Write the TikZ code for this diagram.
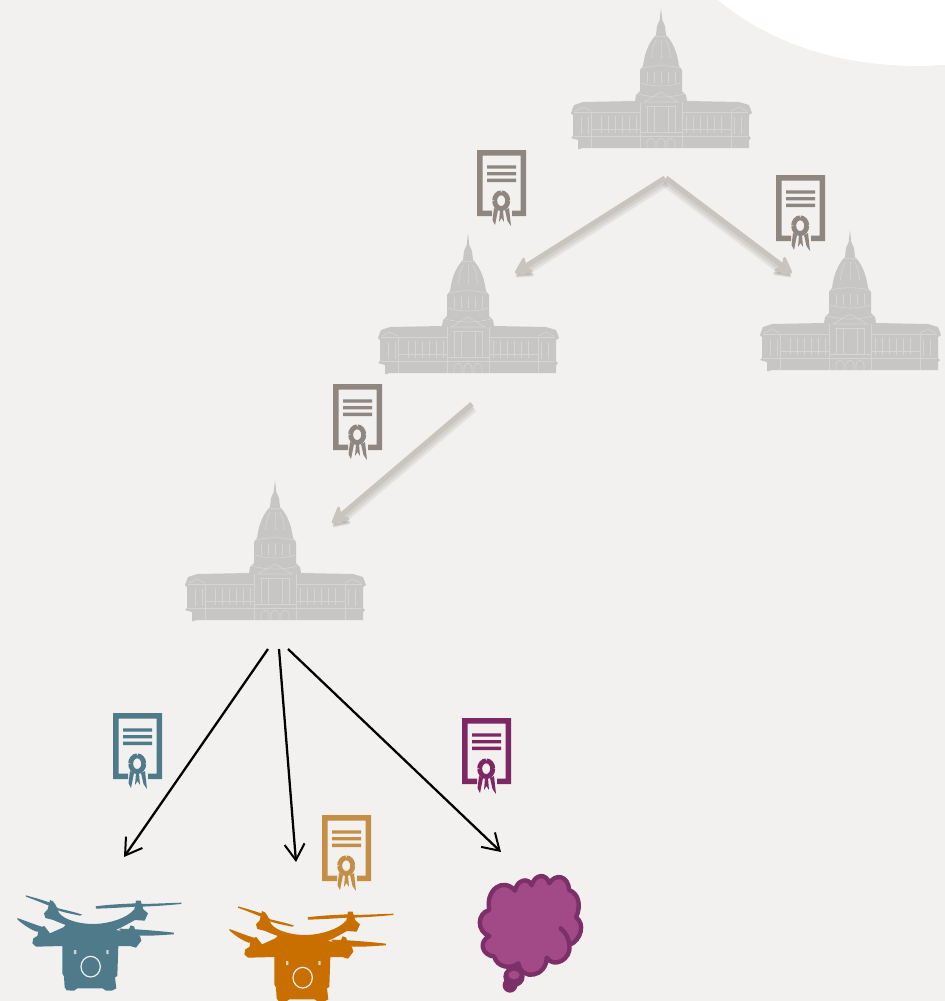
\documentclass[tikz,border=0pt]{standalone}
\usetikzlibrary{arrows.meta}
\definecolor{bg}{HTML}{F2F1EF}
\definecolor{capfill}{HTML}{C7C6C5}
\definecolor{capline}{HTML}{D6D5D4}
\definecolor{certgray}{HTML}{8F867F}
\definecolor{certteal}{HTML}{4F7A8A}
\definecolor{certtan}{HTML}{C48E45}
\definecolor{certpurple}{HTML}{7D2765}
\definecolor{droneteal}{HTML}{4E7A8A}
\definecolor{droneorange}{HTML}{C96F00}
\definecolor{brainfill}{HTML}{A24A87}
\definecolor{brainline}{HTML}{7B3067}
\definecolor{softarrow}{HTML}{CAC4BE}
\definecolor{softshadow}{HTML}{9E9A96}
\tikzset{
  softtip/.style={-{Stealth[length=15pt,width=16pt,inset=5pt,round,line width=2pt]}},
  softline/.style={softtip,draw=softarrow,line width=3.8pt,line cap=butt},
  softglow/.style={softtip,draw=softshadow,opacity=.10,line cap=butt},
  blackarrow/.style={-{Straight Barb[length=12pt,width=15pt,line width=1.5pt]},draw=black,line width=1.7pt},
  capdetail/.style={draw=capline,line width=.5pt},
  pics/capitol/.style={code={
    \fill[capfill] (0,-140) -- (1.3,-128) -- (4,-122) -- (5,-113)
      .. controls (10,-108) and (15,-99) .. (17,-88) -- (18,-82) -- (21,-78) -- (21,-57) -- (25,-53) -- (26,-47)
      -- (78,-46) -- (88,-43) -- (91,-35) -- (88,-33) -- (88,-12) -- (90,-10) -- (88,-8) -- (88,0)
      -- (-80,0) -- (-80,1) -- (-83,1) -- (-83,-8) -- (-90,-10) -- (-88,-12) -- (-88,-33) -- (-90,-35) -- (-87,-43) -- (-78,-46)
      -- (-26,-47) -- (-25,-53) -- (-21,-57) -- (-21,-78) -- (-18,-82) -- (-17,-88)
      .. controls (-15,-99) and (-10,-108) .. (-5,-113) -- (-4,-122) -- (-1.3,-128) -- cycle;
    \draw[capdetail] (-19,-80) .. controls (-8,-83) and (8,-83) .. (19,-80);
    \draw[capdetail] (-20,-65) .. controls (-8,-61) and (8,-61) .. (20,-65);
    \draw[capdetail] (-23,-54) .. controls (-8,-50) and (8,-50) .. (23,-54);
    \draw[capdetail] (-17,-46) -- (0,-56) -- (17,-46) -- cycle;
    \draw[capdetail] (-6,-111) .. controls (-2,-112) and (2,-112) .. (6,-111);
    \foreach \i in {-14,-7,0,7,14} {\draw[capdetail] (\i,-76) -- (\i,-65);}
    \foreach \i in {-8,0,8} {\draw[capdetail] (\i*.6,-108) .. controls (\i*1,-102) .. (\i*1.2,-90);}
    \draw[capdetail] (-87,-36) -- (-21,-36) (21,-36) -- (87,-36);
    \draw[capdetail] (-87,-12) -- (87,-12);
    \draw[capdetail] (-21,-46) -- (-21,0) (21,-46) -- (21,0);
    \draw[capdetail] (-15,-42) -- (15,-42);
    \foreach \i in {-14,-7,7,14} {\draw[capdetail] (\i,-42) -- (\i,-16);}
    \draw[capdetail] (-21,-16) -- (21,-16);
    \foreach \i in {-10,0,10} {\draw[capdetail] (\i-4,0) -- (\i-4,-6) .. controls (\i-3,-11) and (\i+3,-11) .. (\i+4,-6) -- (\i+4,0);}
    \foreach \s in {-1,1} {
      \draw[capdetail] (\s*86,-37) -- (\s*78,-41) -- (\s*70,-37);
      \draw[capdetail] (\s*70,-36) -- (\s*70,0);
      \draw[capdetail] (\s*80,-31) -- (\s*80,-14) (\s*73,-31) -- (\s*73,-14);
      \foreach \i in {25,32,39,46,53,60} {\draw[capdetail] (\s*\i,-32) -- (\s*\i,-15);}
      \draw[capdetail] (\s*21,-19) -- (\s*70,-19);
    }
  }},
  pics/certificate/.style={code={
    \fill[#1,even odd rule] (0,0) -- (49,0) -- (49,66) -- (35,66) -- (35,60.5) -- (43.5,60.5) -- (43.5,5.5) -- (5.5,5.5) -- (5.5,60.5) -- (15,60.5) -- (15,66) -- (0,66) -- cycle;
    \fill[#1] (10,15.3) rectangle (39,18.7) (10,22) rectangle (39,25.4) (10,28.7) rectangle (39,32.1);
    \draw[#1,line width=3.7pt,dash pattern=on 2.6pt off .25pt] (24.2,50.7) ellipse (4.9pt and 5.9pt);
    \fill[#1] (17,58) -- (21,60) -- (18,75) -- (15.5,70) -- cycle (23,60) -- (26,60) -- (27,72) -- (24.5,68) -- (22,72) -- cycle (28,60) -- (32,58) -- (34,76) -- (30.5,71) -- cycle;
  }},
  pics/drone/.style={code={
    \begin{scope}[scale=1/3]
    \fill[#1] (78,46) .. controls (110,55) and (135,62) .. (155,70) -- (175,85) .. controls (205,92) and (230,98) .. (247,104) -- (240,107) .. controls (210,100) and (170,95) .. (150,78) .. controls (125,68) and (100,58) .. (78,50) -- cycle;
    \fill[#1] (287,79) .. controls (330,73) and (370,72) .. (405,70) -- (425,72) .. controls (470,71) and (510,69) .. (545,68) -- (543,72) .. controls (500,76) and (450,80) .. (405,80) .. controls (360,83) and (320,85) .. (288,86) -- cycle;
    \fill[#1] (360,146) .. controls (375,146) and (385,148) .. (395,147) .. controls (440,150) and (490,154) .. (522,158) -- (522,163) .. controls (480,165) and (440,170) .. (395,165) -- (358,150) -- cycle;
    \fill[#1] (52,114) .. controls (75,122) and (100,132) .. (125,140) -- (135,155) -- (110,155) .. controls (95,150) and (70,135) .. (52,118) -- cycle;
    \fill[#1] (150,60) .. controls (165,62) and (168,80) .. (178,100)
      .. controls (195,120) and (240,133) .. (285,132) .. controls (330,130) and (380,115) .. (403,88)
      -- (408,62) -- (422,62) -- (430,88) -- (444,100) -- (434,122) -- (405,120)
      .. controls (390,128) and (370,140) .. (347,150) -- (383,155) -- (392,136) -- (403,140) -- (407,160) -- (420,168) -- (424,182) -- (408,203) -- (390,198) -- (355,198)
      -- (352,288) -- (345,292) -- (349,325) -- (335,332) -- (318,332) -- (308,325) -- (232,325) -- (222,332) -- (200,331) -- (194,322) -- (192,290) -- (187,280) -- (187,198)
      -- (108,200) -- (97,190) -- (100,175) -- (112,168) -- (118,143) -- (133,138) -- (150,160) -- (190,142) -- (197,135)
      .. controls (180,128) and (170,125) .. (160,120) -- (136,114) -- (132,100) -- (143,88) -- cycle;
    \draw[bg,line width=.9pt] (272,260) ellipse (29 and 31);
    \fill[bg!75!#1] (222,210) rectangle (229,222) (319,210) rectangle (326,222);
    \end{scope}
  }},
}
\begin{document}
\begin{tikzpicture}[x=.75pt,y=-.75pt]
\useasboundingbox (0,0) rectangle (945,1001);
\fill[bg] (0,0) rectangle (945,1001);
\fill[white] (718,0) .. controls (760,35) and (825,66) .. (920,66) .. controls (930,66) and (938,65) .. (945,65) -- (945,0) -- cycle;

\pic at (661,148) {capitol};
\pic at (468,373) {capitol};
\pic at (850,370) {capitol};
\pic at (275,620) {capitol};

\pic at (477,150) {certificate=certgray};
\pic at (776,175) {certificate=certgray};
\pic at (333,384) {certificate=certgray};
\pic at (113,713) {certificate=certteal};
\pic at (322,815) {certificate=certtan};
\pic at (462,718) {certificate=certpurple};

\pic at (0,880) {drone=droneteal};
\pic at (212,891) {drone=droneorange};

% brain
\begin{scope}[shift={(460,860)},scale=1/3]
\fill[brainline] (162,350) ellipse (32 and 31);
\fill[brainline] (150,376) circle (22);
\fill[brainfill] (162,345) ellipse (17 and 13);
\draw[brainline,fill=brainfill,line width=3.3pt,line join=round]
  (88,150) .. controls (75,90) and (130,50) .. (165,92)
  .. controls (170,60) and (205,50) .. (215,76)
  .. controls (225,40) and (260,40) .. (268,70)
  .. controls (285,40) and (325,45) .. (327,90)
  .. controls (355,100) and (365,135) .. (348,172)
  .. controls (375,190) and (365,240) .. (328,255)
  .. controls (335,300) and (280,325) .. (260,293)
  .. controls (260,350) and (185,365) .. (175,310)
  .. controls (150,330) and (110,320) .. (103,290)
  .. controls (65,285) and (55,245) .. (88,228)
  .. controls (50,215) and (50,160) .. (88,150) -- cycle;
\draw[brainline,line width=3.3pt,line cap=round] (302,205) .. controls (318,218) and (326,235) .. (328,255);
\end{scope}

% connector end points
\coordinate (capA) at (665,178);
\coordinate (capAb) at (666,178);
\coordinate (capB) at (515,273);
\coordinate (capC) at (792,273);
\coordinate (capD) at (472,404);
\coordinate (capE) at (332,523);
\coordinate (capF1) at (268,649);
\coordinate (capF2) at (279,649);
\coordinate (capF3) at (288,649);
\coordinate (droneT) at (124,857);
\coordinate (droneO) at (296,862);
\coordinate (brainT) at (501,852);

% soft shadows
\foreach \w/\dy in {7.5pt/4,6pt/4,4.5pt/3,3pt/3}{
  \draw[softglow,line width=\w] ([shift={(1,\dy)}]capA) -- ([shift={(1,\dy)}]capB);
  \draw[softglow,line width=\w] ([shift={(-1,\dy)}]capAb) -- ([shift={(-1,\dy)}]capC);
  \draw[softglow,line width=\w] ([shift={(1,\dy)}]capD) -- ([shift={(1,\dy)}]capE);
}
\draw[softline] (capA) -- (capB);
\draw[softline] (capAb) -- (capC);
\draw[softline] (capD) -- (capE);

\draw[blackarrow] (capF1) -- (droneT);
\draw[blackarrow] (capF2) -- (droneO);
\draw[blackarrow] (capF3) -- (brainT);
\end{tikzpicture}
\end{document}
